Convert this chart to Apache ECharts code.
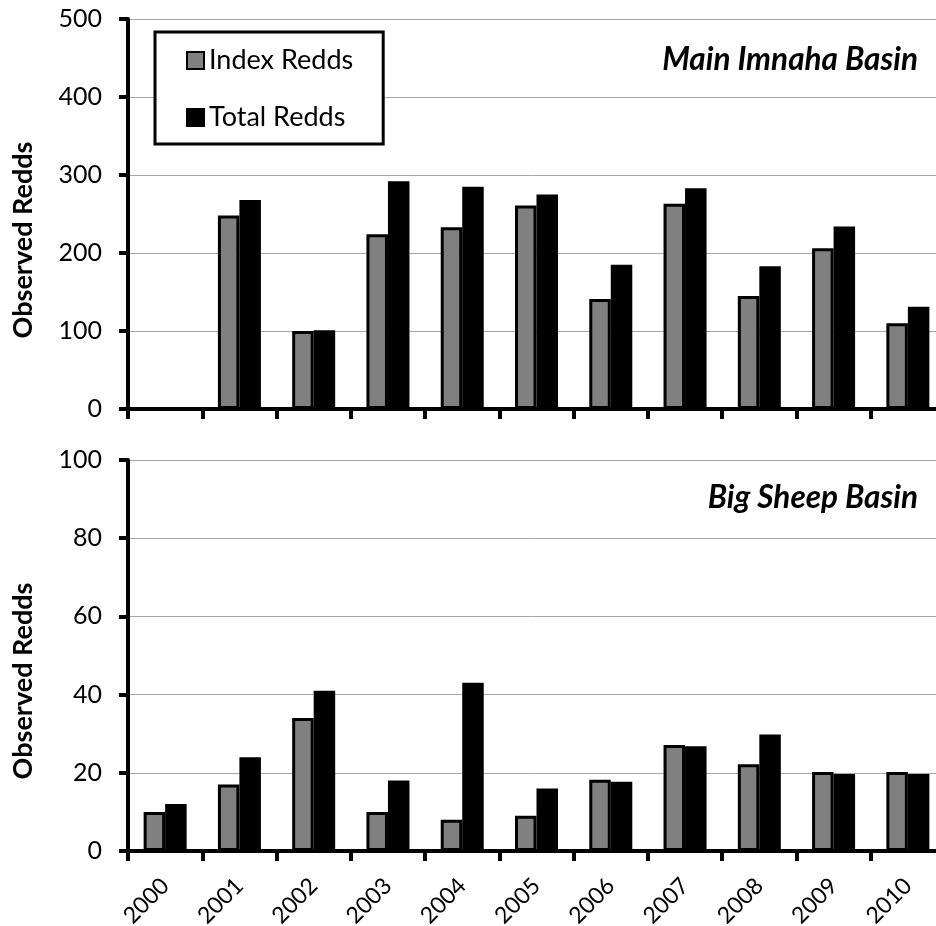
<!DOCTYPE html>
<html>
<head>
<meta charset="utf-8">
<script src="https://cdn.jsdelivr.net/npm/echarts@6/dist/echarts.min.js"></script>
<style>
  html, body { margin: 0; padding: 0; background: #fff; }
  #chart { width: 936px; height: 926px; }
</style>
</head>
<body>
<div id="chart"></div>
<script>
// years on the x axis
var years = ["2000", "2001", "2002", "2003", "2004", "2005", "2006", "2007", "2008", "2009", "2010"];

// Main Imnaha Basin
var imnahaIndex = [null, 248, 100, 224, 233, 261, 141, 263, 145, 206, 110];
var imnahaTotal = [null, 268, 101, 292, 285, 275, 185, 283, 183, 234, 131];

// Big Sheep Basin
var sheepIndex = [10, 17, 34, 10, 8, 9, 18.2, 27.1, 22.2, 20.2, 20.2];
var sheepTotal = [12, 24, 41, 18, 43, 16, 17.7, 26.8, 29.8, 19.7, 19.7];

var topTicks = [0, 100, 200, 300, 400, 500];
var bottomTicks = [0, 20, 40, 60, 80, 100];

var FONT = "Lato, 'Open Sans', sans-serif";

var chart = echarts.init(document.getElementById("chart"), null, { renderer: "canvas" });

function makeYAxis(idx, ticks) {
	return {
		type: "value",
		gridIndex: idx,
		min: ticks[0],
		max: ticks[ticks.length - 1],
		interval: ticks[1] - ticks[0],
		axisLine: { show: true, lineStyle: { color: "#000", width: 4 } },
		axisTick: { show: true, length: 9, lineStyle: { color: "#000", width: 4 } },
		axisLabel: { color: "#000", fontSize: 25, fontFamily: FONT, margin: 26 },
		splitLine: { show: true, lineStyle: { color: "#a6a6a6", width: 1 } }
	};
}

function makeXAxis(idx, showLabel) {
	return {
		type: "category",
		gridIndex: idx,
		data: years,
		boundaryGap: true,
		axisLine: { show: true, onZero: false, lineStyle: { color: "#000", width: 4 } },
		axisTick: { show: true, length: 10, lineStyle: { color: "#000", width: 4 } },
		axisLabel: {
			show: showLabel,
			rotate: 45,
			color: "#000",
			fontSize: 23,
			fontFamily: FONT,
			margin: 31,
			padding: [14, 0, 0, 0]
		}
	};
}

var grayStyle = { color: "#808080", borderColor: "#000", borderWidth: 3 };
var blackStyle = { color: "#000", borderColor: "#000", borderWidth: 3 };

var option = {
	animation: false,
	backgroundColor: "#fff",
	grid: [
		{ left: 128, top: 19, right: -9, height: 390, outerBoundsMode: "none" },
		{ left: 128, top: 460, right: -9, height: 391, outerBoundsMode: "none" }
	],
	title: [
		{
			text: "Main Imnaha Basin",
			right: 18, top: 44, padding: 0,
			textStyle: { fontFamily: FONT, fontSize: 31.5, fontStyle: "italic", fontWeight: "bold", color: "#000" }
		},
		{
			text: "Big Sheep Basin",
			right: 18, top: 482, padding: 0,
			textStyle: { fontFamily: FONT, fontSize: 31.5, fontStyle: "italic", fontWeight: "bold", color: "#000" }
		}
	],
	legend: {
		left: 155,
		top: 32,
		orient: "vertical",
		data: ["Index Redds", "Total Redds"],
		backgroundColor: "#fff",
		borderColor: "#000",
		borderWidth: 3,
		borderRadius: 0,
		padding: [15, 30, 13, 31],
		itemGap: 30,
		itemWidth: 17,
		itemHeight: 17,
		icon: "rect",
		textStyle: { fontFamily: FONT, fontSize: 27, color: "#000", lineHeight: 26 }
	},
	graphic: [
		{
			type: "text", x: 23, y: 240, rotation: Math.PI / 2,
			style: { text: "Observed Redds", font: "bold 27px " + FONT, fill: "#000", textAlign: "center", textVerticalAlign: "middle" }
		},
		{
			type: "text", x: 23, y: 681, rotation: Math.PI / 2,
			style: { text: "Observed Redds", font: "bold 27px " + FONT, fill: "#000", textAlign: "center", textVerticalAlign: "middle" }
		}
	],
	xAxis: [makeXAxis(0, false), makeXAxis(1, true)],
	yAxis: [makeYAxis(0, topTicks), makeYAxis(1, bottomTicks)],
	series: [
		{ name: "Index Redds", type: "bar", xAxisIndex: 0, yAxisIndex: 0, data: imnahaIndex, barWidth: 21.5, barGap: "0%", itemStyle: grayStyle },
		{ name: "Total Redds", type: "bar", xAxisIndex: 0, yAxisIndex: 0, data: imnahaTotal, barWidth: 21.5, barGap: "0%", itemStyle: blackStyle },
		{ name: "Index Redds", type: "bar", xAxisIndex: 1, yAxisIndex: 1, data: sheepIndex, barWidth: 21.5, barGap: "0%", itemStyle: grayStyle },
		{ name: "Total Redds", type: "bar", xAxisIndex: 1, yAxisIndex: 1, data: sheepTotal, barWidth: 21.5, barGap: "0%", itemStyle: blackStyle }
	]
};

chart.setOption(option);
</script>
</body>
</html>
